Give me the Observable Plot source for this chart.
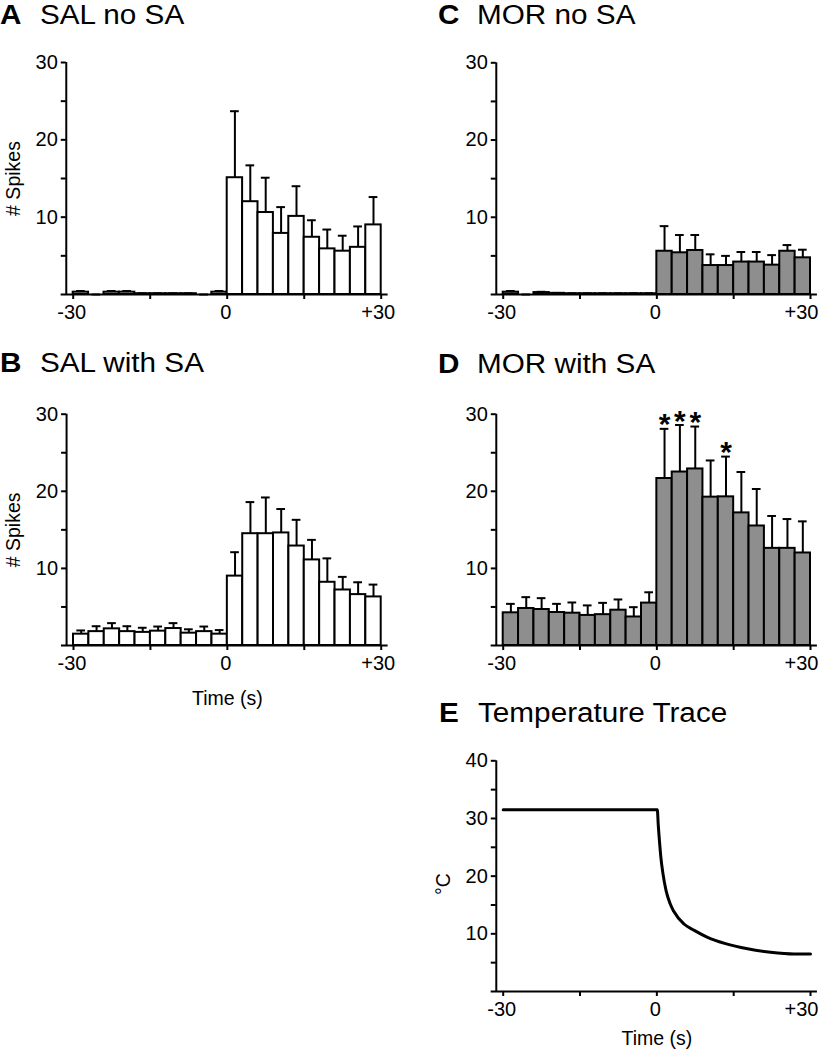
<!DOCTYPE html>
<html>
<head>
<meta charset="utf-8">
<script src="https://cdn.jsdelivr.net/npm/d3@7"></script>
<script src="https://cdn.jsdelivr.net/npm/@observablehq/plot@0.6"></script>
<style>
  html, body { margin: 0; padding: 0; background: #fff; }
  #root { position: relative; width: 821px; height: 1050px; overflow: hidden;
          font-family: "Liberation Sans", Arial, sans-serif; color: #000; }
  .panel { position: absolute; }
  .panel svg { display: block; }
  .ttl { position: absolute; font-size: 27px; line-height: 27px; white-space: nowrap;
         transform: scaleX(1.1); transform-origin: 0 0; }
  .ttl.letter { font-weight: bold; }
</style>
</head>
<body>
<div id="root"></div>
<script>
// ---------------- data ----------------
const binStart = [-30,-27,-24,-21,-18,-15,-12,-9,-6,-3,0,3,6,9,12,15,18,21,24,27];
const binWidth = 3;

const salNoSaMean  = [0.3,0,0.3,0.3,0.1,0.1,0.1,0.1,0,0.3, 15.1,12.0,10.6,7.9,10.1,7.4,5.9,5.6,6.1,9.0];
const salNoSaUpper = [0.45,0,0.45,0.45,0.15,0.15,0.15,0.15,0,0.45, 23.7,16.7,15.1,11.3,14.0,9.6,8.4,7.6,8.8,12.6];

const salWithSaMean  = [1.47,1.8,2.16,1.8,1.7,1.86,2.2,1.6,1.8,1.47, 9.0,14.5,14.5,14.6,12.9,11.1,8.2,7.2,6.6,6.3];
const salWithSaUpper = [1.95,2.5,2.9,2.5,2.3,2.46,2.9,2.1,2.46,2.0, 12.1,18.6,19.2,17.7,16.3,13.7,11.3,8.9,8.2,7.9];

const morNoSaMean  = [0.3,0,0.25,0.15,0.1,0.1,0.1,0.1,0.1,0.1, 5.6,5.4,5.7,3.75,3.75,4.2,4.2,3.8,5.6,4.75];
const morNoSaUpper = [0.45,0,0.35,0.2,0.15,0.15,0.15,0.15,0.15,0.15, 8.85,7.7,7.7,5.2,5.0,5.5,5.5,5.1,6.4,5.8];

const morWithSaMean  = [4.24,4.8,4.67,4.28,4.19,3.9,4.0,4.58,3.7,5.5, 21.66,22.5,22.9,19.24,19.28,17.2,15.5,12.6,12.6,12.0];
const morWithSaUpper = [5.4,6.27,6.14,5.4,5.58,5.2,5.53,5.97,4.97,6.9, 28.1,28.6,28.4,24.0,24.5,22.5,20.3,16.8,16.4,16.1];
const morWithSaStars = [10, 11, 12, 14]; // bin indexes marked *

const tempTime  = [-30, 0.1, 0.26, 0.5, 0.78, 1.2, 1.8, 2.6, 3.3, 5.3, 7.3, 9.9, 13.4, 17.7, 22.2, 26.8, 30];
const tempValue = [31.5, 31.5, 29.1, 26.2, 23.3, 20.4, 17.5, 15.2, 13.9, 11.7, 10.6, 9.4, 8.3, 7.4, 6.8, 6.5, 6.5];

const xTicks = [-30, -15, 0, 15, 30];
const xTickLabelsLeft = [{t: -30, s: "-30"}, {t: 0, s: "0"}];
const xTickLabelRight = [{t: 30, s: "+30"}];
const spikeTicks = [5, 10, 15, 20, 25, 30];
const spikeTickLabels = [10, 20, 30];
const tempTicks = [5, 10, 15, 20, 25, 30, 35, 40];
const tempTickLabels = [10, 20, 30, 40];

const titles = [
  { letter: "A", text: "SAL no SA",          lx: 0,   tx: 40,  base: 24.5 },
  { letter: "B", text: "SAL with SA",        lx: 0,   tx: 40,  base: 373 },
  { letter: "C", text: "MOR no SA",          lx: 438, tx: 477, base: 24.5 },
  { letter: "D", text: "MOR with SA",        lx: 438, tx: 477, base: 374 },
  { letter: "E", text: "Temperature Trace",  lx: 439, tx: 478, base: 723 }
];

// ---------------- layout helpers ----------------
const root = document.getElementById("root");
const FONT = '"Liberation Sans", Arial, sans-serif';
const AXIS_X0 = -31.35;   // where the y axis line sits (in seconds)
const LW = 2;
const FS = 20;   // tick labels
const LFS = 19.5; // axis titles

function place(node, left, top) {
  const div = document.createElement("div");
  div.className = "panel";
  div.style.left = left + "px";
  div.style.top = top + "px";
  div.appendChild(node);
  root.appendChild(div);
}

function frame({left, width, top, xm30, xp30, yTop, yZero, height}) {
  const k = (xp30 - xm30) / 60;
  const yAxisX = xm30 - (-30 - AXIS_X0) * k;
  return {
    width, height,
    marginLeft: yAxisX - left,
    marginRight: left + width - xp30,
    marginTop: yTop - top,
    marginBottom: top + height - yZero
  };
}

function axesMarks(ymax, yTicks, yLabels, o) {
  const marks = [
    Plot.ruleY([0], {x1: AXIS_X0 - 1, x2: 31.35, stroke: "black", strokeWidth: LW}),
    Plot.ruleX([AXIS_X0], {y1: 0, y2: ymax, stroke: "black", strokeWidth: LW}),
    Plot.axisY(yTicks, {anchor: "left", tickSize: 5, tickPadding: 3.5, strokeWidth: LW, label: null,
      fontSize: FS, tickFormat: d => yLabels.includes(d) ? String(d) : ""}),
    Plot.axisX(xTicks, {anchor: "bottom", tickSize: 5, strokeWidth: LW, label: null, tickFormat: () => ""}),
    Plot.text(xTickLabelsLeft, {x: "t", text: "s", frameAnchor: "bottom", textAnchor: "middle",
      lineAnchor: "top", dy: 10, dx: -1.5, fontSize: FS}),
    Plot.text(xTickLabelRight, {x: "t", text: "s", frameAnchor: "bottom", textAnchor: "middle",
      lineAnchor: "top", dy: 10, dx: o.plusDx, fontSize: FS})
  ];
  if (o.ylabel) marks.push(Plot.text([o.ylabel], {frameAnchor: "left", textAnchor: "middle", lineAnchor: "middle",
    dx: -53, dy: o.ylabelDy || 0, rotate: -90, fontSize: LFS}));
  if (o.xlabel) marks.push(Plot.text([{t: 0, s: o.xlabel}], {x: "t", text: "s", frameAnchor: "bottom",
    textAnchor: "middle", lineAnchor: "middle", dy: o.xlabelDy, fontSize: LFS}));
  return marks;
}

function histPanel(geom, mean, upper, fill, opts = {}) {
  const rows = binStart.map((t, i) => ({t, c: t + binWidth / 2, mean: mean[i], upper: upper[i]}));
  const marks = [
    Plot.ruleX(rows, {x: "c", y1: "mean", y2: "upper", stroke: "black", strokeWidth: LW}),
    Plot.ruleY(rows, {y: "upper", x1: d => d.c - 0.85, x2: d => d.c + 0.85, stroke: "black", strokeWidth: LW}),
    Plot.rect(rows, {x1: "t", x2: d => d.t + binWidth, y1: 0, y2: "mean", fill, stroke: "black", strokeWidth: LW}),
    ...axesMarks(30, spikeTicks, spikeTickLabels, {...opts, xlabelDy: 53})
  ];
  if (opts.stars) {
    const starRows = opts.stars.map(i => rows[i]);
    marks.push(Plot.text(starRows, {x: "c", y: "upper", text: () => "*", fontSize: 30, fontWeight: "bold",
      textAnchor: "middle", lineAnchor: "middle", dy: -4}));
  }
  const svg = Plot.plot({
    ...frame(geom),
    style: {fontFamily: FONT, fontSize: FS + "px", color: "black", background: "transparent", overflow: "visible"},
    x: {domain: [AXIS_X0, 30]},
    y: {domain: [0, 30]},
    marks
  });
  place(svg, geom.left, geom.top);
}

// ---------------- panels ----------------
histPanel({left: 0, width: 410, top: 40, height: 294, xm30: 72.7, xp30: 380.7, yTop: 62, yZero: 294},
  salNoSaMean, salNoSaUpper, "white", {ylabel: "# Spikes", plusDx: -3});
histPanel({left: 0, width: 410, top: 390, height: 325, xm30: 73.0, xp30: 380.7, yTop: 413.7, yZero: 645},
  salWithSaMean, salWithSaUpper, "white", {ylabel: "# Spikes", xlabel: "Time (s)", plusDx: -3});
histPanel({left: 410, width: 411, top: 40, height: 294, xm30: 502.7, xp30: 810, yTop: 62.3, yZero: 294},
  morNoSaMean, morNoSaUpper, "#8e8e8e", {plusDx: -9});
histPanel({left: 410, width: 411, top: 390, height: 325, xm30: 502.7, xp30: 810, yTop: 413.7, yZero: 645},
  morWithSaMean, morWithSaUpper, "#8e8e8e", {stars: morWithSaStars, plusDx: -9});

// temperature trace
{
  const geom = {left: 410, width: 411, top: 740, height: 310, xm30: 502.7, xp30: 810, yTop: 760.3, yZero: 991};
  const rows = tempTime.map((t, i) => ({t, v: tempValue[i]}));
  const svg = Plot.plot({
    ...frame(geom),
    style: {fontFamily: FONT, fontSize: FS + "px", color: "black", background: "transparent", overflow: "visible"},
    x: {domain: [AXIS_X0, 30]},
    y: {domain: [0, 40]},
    marks: [
      ...axesMarks(40, tempTicks, tempTickLabels, {ylabel: "°C", ylabelDy: 8, xlabel: "Time (s)", xlabelDy: 47, plusDx: -9}),
      Plot.line(rows, {x: "t", y: "v", stroke: "black", strokeWidth: 3, curve: "monotone-x"})
    ]
  });
  place(svg, geom.left, geom.top);
}

// ---------------- titles ----------------
for (const t of titles) {
  const a = document.createElement("div");
  a.className = "ttl letter";
  a.textContent = t.letter;
  a.style.left = t.lx + "px";
  a.style.top = (t.base - 22.9) + "px";
  root.appendChild(a);
  const b = document.createElement("div");
  b.className = "ttl";
  b.textContent = t.text;
  b.style.left = t.tx + "px";
  b.style.top = (t.base - 22.9) + "px";
  root.appendChild(b);
}
</script>
</body>
</html>
